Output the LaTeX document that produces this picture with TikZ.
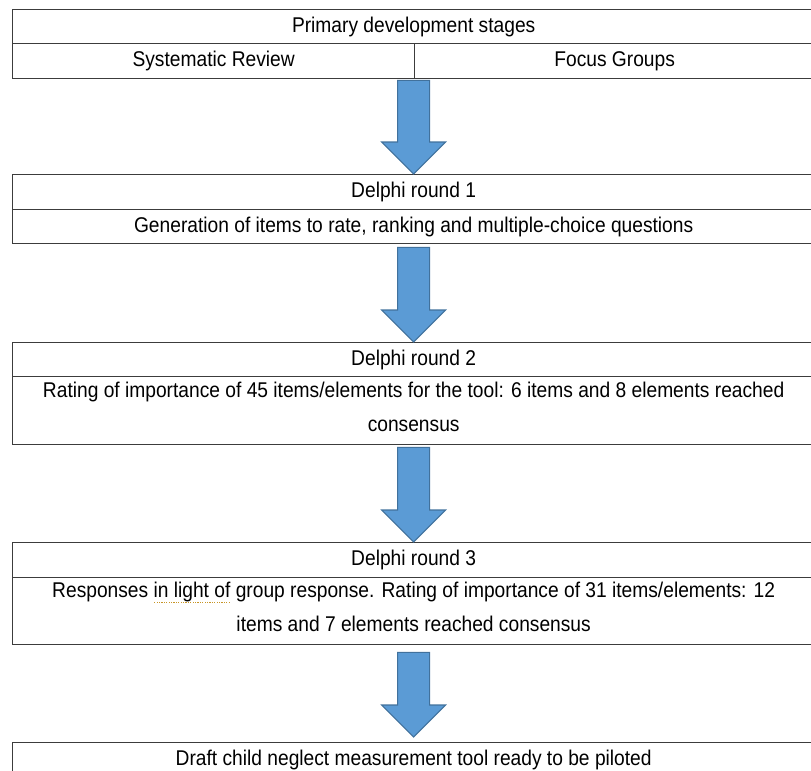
\documentclass[tikz,border=0pt]{standalone}
\usepackage{fontspec}
\setmainfont{Liberation Sans}[FakeStretch=0.9]
\usetikzlibrary{calc}

\definecolor{arrowblue}{RGB}{91,155,213}
\definecolor{arrowedge}{RGB}{65,113,156}
\definecolor{rulegray}{RGB}{60,60,60}
\definecolor{squiggle}{RGB}{200,150,40}

\newsavebox{\markbox}
\newcommand{\grammarmark}[1]{\sbox{\markbox}{#1}\rlap{\textcolor{squiggle}{\raisebox{-3.6pt}{\hbox to \wd\markbox{\xleaders\hbox to 1.8pt{\hss\rule{0.9pt}{0.9pt}\hss}\hfill}}}}\usebox{\markbox}}
\newcommand{\lowstrut}{\rule[-6pt]{0pt}{6pt}}

\tikzset{
	row/.style={draw=rulegray, line width=1pt, anchor=north west, inner sep=0pt,
		minimum width=601.5pt, minimum height=25.5pt, align=center,
		font=\fontsize{16}{25.5}\selectfont},
	bigarrow/.style={fill=arrowblue, draw=arrowedge, line width=0.8pt, line join=miter}
}

\begin{document}
\begin{tikzpicture}[x=0.75pt, y=-0.75pt]
	\useasboundingbox (0,0) rectangle (811,771);
	% primary stages
	\node[row] (prim) at (12,9) {Primary development stages};
	\node[row, minimum width=301.5pt, minimum height=26.25pt] (sysrev) at (12,43) {Systematic Review};
	\node[row, minimum width=300pt, minimum height=26.25pt] (focus) at (414,43) {Focus Groups};
	% delphi rounds
	\node[row, minimum height=26.25pt] (d1head) at (12,174) {Delphi round 1};
	\node[row] (d1text) at (12,209) {Generation of items to rate, ranking and multiple-choice questions};
	\node[row] (d2head) at (12,342) {Delphi round 2};
	\node[row, minimum height=51pt] (d2text) at (12,376) {Rating of importance of 45 items/elements for the tool: 6 items and 8 elements reached\\consensus\lowstrut};
	\node[row, minimum height=26.25pt] (d3head) at (12,542) {Delphi round 3};
	\node[row, minimum height=50.25pt] (d3text) at (12,577) {Responses \grammarmark{in light of} group response. Rating of importance of 31 items/elements: 12\\items and 7 elements reached consensus\lowstrut};
	\node[row, minimum height=26.25pt] (final) at (12,742) {Draft child neglect measurement tool ready to be piloted};
	% block arrows
	\foreach \from/\to/\ga/\gb in {sysrev.south east/d1head.north/1/0, d1text.south/d2head.north/3/0,
		d2text.south/d3head.north/2/0, d3text.south/final.north/7/5}{
		\coordinate (atop) at (\to |- \from);
		\coordinate (atip) at ($(\to)+(0,-\gb)$);
		\draw[bigarrow] ($(atop)+(-16,\ga)$) -- ($(atip)+(-16,-32)$) -- ($(atip)+(-32,-32)$) -- (atip)
			-- ($(atip)+(32,-32)$) -- ($(atip)+(16,-32)$) -- ($(atop)+(16,\ga)$) -- cycle;
	}
\end{tikzpicture}
\end{document}
